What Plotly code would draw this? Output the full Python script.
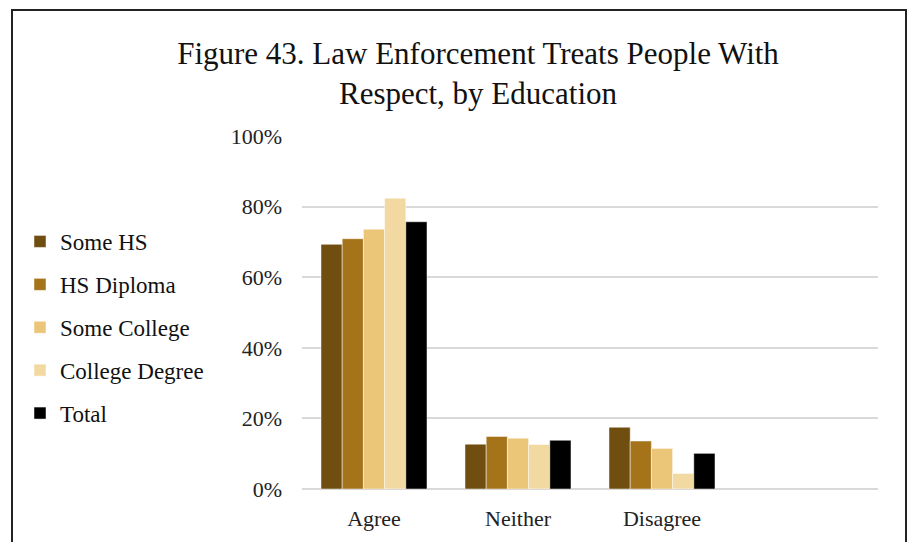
import plotly.graph_objects as go

# Survey responses by education level (percent)
categories = ['Agree', 'Neither', 'Disagree', ' ']
some_hs = [69.3, 12.7, 17.5]
hs_diploma = [70.9, 14.9, 13.6]
some_college = [73.6, 14.4, 11.5]
college_degree = [82.4, 12.6, 4.4]
total = [75.7, 13.8, 10.1]

series = [
    ('Some HS', some_hs, '#6f4e10'),
    ('HS Diploma', hs_diploma, '#a5731a'),
    ('Some College', some_college, '#ebc578'),
    ('College Degree', college_degree, '#f2d9a2'),
    ('Total', total, '#000000'),
]

W, H = 912, 542
L, R, T, B = 302, 34, 136, 53
pw, ph = W - L - R, H - T - B


def px_x(p):
    return (p - L) / pw


def px_y(p):
    return (H - B - p) / ph


serif = 'Liberation Serif, Times New Roman, serif'

fig = go.Figure()
for i, (name, vals, col) in enumerate(series):
    fig.add_trace(go.Bar(
        x=categories[:3], y=vals, name=name,
        marker=dict(color=col, line=dict(color='rgba(255,255,255,0.6)', width=0.8)),
        legendgroup=name,
    ))

fig.update_layout(
    width=W, height=H,
    margin=dict(l=L, r=R, t=T, b=B, autoexpand=False),
    paper_bgcolor='white', plot_bgcolor='white',
    barmode='group', bargap=0.264, bargroupgap=0,
    font=dict(family=serif, size=22, color='#222222'),
    title=dict(
        text='Figure 43. Law Enforcement Treats People With<br>Respect, by Education',
        x=478 / W, xanchor='center', xref='container', y=1 - 64 / H, yanchor='middle',
        font=dict(family=serif, size=31, color='#111111'),
    ),
    xaxis=dict(
        categoryorder='array', categoryarray=categories,
        range=[-0.5, 3.5], showgrid=False, showline=False, ticks='',
        tickfont=dict(size=22), fixedrange=True, ticklabelstandoff=14,
    ),
    yaxis=dict(
        range=[0, 100], dtick=20, ticksuffix='%', showgrid=True,
        gridcolor='#d9d9d9', gridwidth=1.5, zeroline=True, zerolinecolor='#d9d9d9',
        zerolinewidth=1.5, tickfont=dict(size=22), ticks='', ticklen=0,
        ticklabelstandoff=19,
    ),
    legend=dict(
        x=px_x(20), xanchor='left', y=px_y(220), yanchor='top',
        font=dict(family=serif, size=23, color='#111111'),
        tracegroupgap=10, itemwidth=30, bgcolor='rgba(0,0,0,0)',
    ),
    showlegend=True,
    shapes=[dict(
        type='rect', xref='paper', yref='paper',
        x0=px_x(12), x1=px_x(906), y0=px_y(10), y1=px_y(560),
        line=dict(color='#222222', width=2), layer='above',
    )],
)

fig.write_html('out.html', config={'displayModeBar': False},
               post_script="document.body.style.margin='0';")
